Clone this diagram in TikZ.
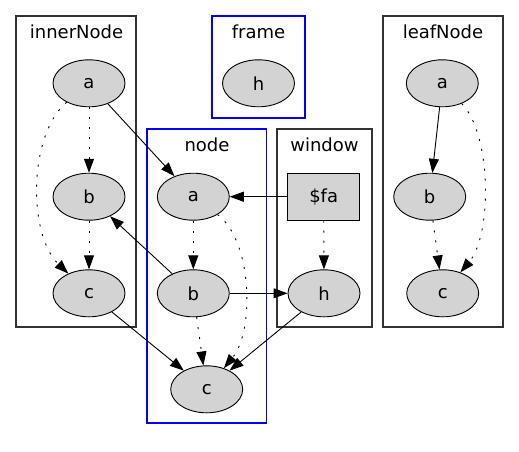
\documentclass[tikz,border=0pt]{standalone}
\usepackage{fontspec}
\setmainfont{DejaVu Sans}
\usetikzlibrary{arrows.meta,shapes.geometric}
\definecolor{nodegray}{HTML}{D3D3D3}
\begin{document}
\begin{tikzpicture}[x=1pt,y=-1pt,
  gnode/.style={ellipse,draw,line width=0.9pt,fill=nodegray,minimum width=72pt,minimum height=47pt,inner sep=0pt,font=\fontsize{18}{22}\selectfont},
  gbox/.style={rectangle,draw,line width=0.9pt,fill=nodegray,minimum width=72pt,minimum height=47pt,inner sep=0pt,font=\fontsize{18}{22}\selectfont},
  cluster/.style={draw=black!80,line width=1.1pt},
  bluecluster/.style={draw=blue,line width=1.1pt},
  ctitle/.style={inner sep=0pt,font=\fontsize{18}{22}\selectfont},
  edge/.style={-{Triangle[length=14pt,width=10pt]},line width=0.9pt},
  dotedge/.style={edge,dash pattern=on 2pt off 8pt}]
\useasboundingbox (0,0) rectangle (519,451);
% clusters
\draw[cluster] (16,16) rectangle (136,327);
\draw[bluecluster] (212,16) rectangle (305,118);
\draw[cluster] (383,16) rectangle (503,327);
\draw[bluecluster] (147,129) rectangle (266.5,423);
\draw[cluster] (277,129) rectangle (372,327);
\node[ctitle] (tinner) at (76.5,32) {innerNode};
\node[ctitle] (tframe) at (258.5,32) {frame};
\node[ctitle] (tleaf) at (443,32) {leafNode};
\node[ctitle] (tnode) at (207,145) {node};
\node[ctitle] (twin) at (324.5,145) {window};
% nodes
\node[gnode] (ia) at (89,83.3) {a};
\node[gnode] (ib) at (89,196.7) {b};
\node[gnode] (ic) at (89,293.3) {c};
\node[gnode] (fh) at (258.5,83.3) {h};
\node[gnode] (na) at (193.3,196.7) {a};
\node[gnode] (nb) at (193.3,293.3) {b};
\node[gnode] (nc) at (206.7,389.3) {c};
\node[gbox] (fa) at (323.7,196.7) {\$fa};
\node[gnode] (wh) at (324,293.3) {h};
\node[gnode] (la) at (442.3,83.3) {a};
\node[gnode] (lb) at (429.7,196.7) {b};
\node[gnode] (lc) at (442.7,293.3) {c};
% edges
\draw[dotedge] (ia) -- (ib);
\draw[dotedge] (ib) -- (ic);
\draw[dotedge] (ia) .. controls (28,135) and (28,235) .. (ic);
\draw[edge] (ia) -- (na);
\draw[edge] (nb) -- (ib);
\draw[edge] (ic) -- (nc);
\draw[edge] (fa) -- (na);
\draw[dotedge] (fa) -- (wh);
\draw[dotedge] (na) -- (nb);
\draw[dotedge] (nb) -- (nc);
\draw[dotedge] (na) .. controls (252,240) and (255,330) .. (nc);
\draw[edge] (nb) -- (wh);
\draw[edge] (wh) -- (nc);
\draw[edge] (la) -- (lb);
\draw[dotedge] (lb) -- (lc);
\draw[dotedge] (la) .. controls (492,135) and (492,235) .. (lc);
\end{tikzpicture}
\end{document}
